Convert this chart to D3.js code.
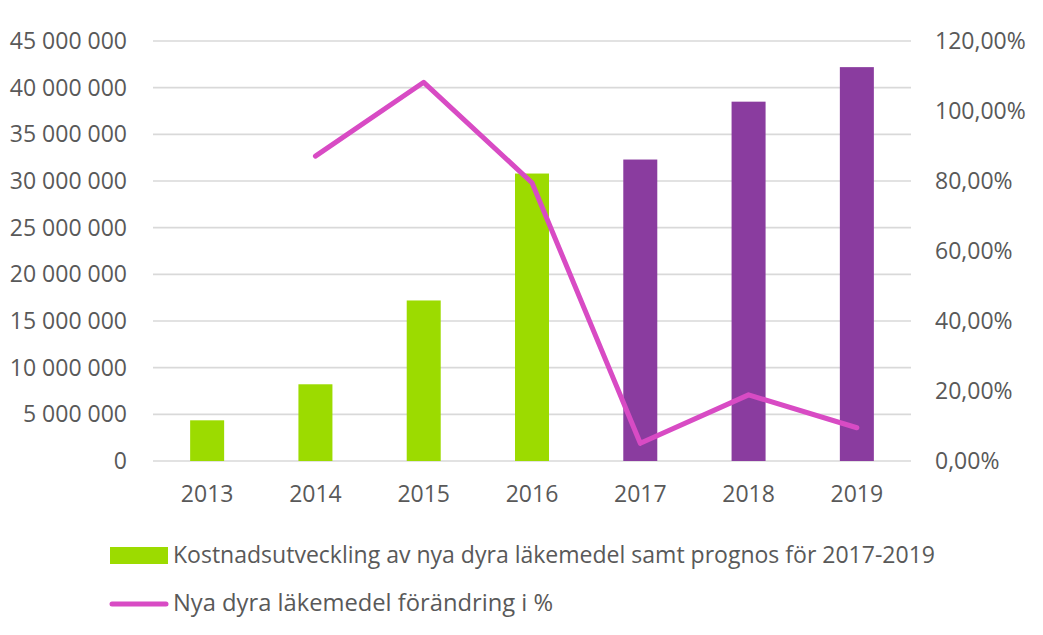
<!DOCTYPE html>
<html>
<head>
  <meta charset="utf-8">
  <title>chart</title>
  <style>
    body { margin: 0; background: #fff; }
    text { font-family: "Open Sans", sans-serif; fill: #595959; }
  </style>
</head>
<body>
<script src="https://cdn.jsdelivr.net/npm/d3@7"></script>
<script>
// data
const years = ["2013", "2014", "2015", "2016", "2017", "2018", "2019"];
const costs = [4360000, 8220000, 17200000, 30800000, 32300000, 38500000, 42200000];
const forecast = [false, false, false, false, true, true, true];
const change = [null, 0.871, 1.082, 0.795, 0.0505, 0.189, 0.095];
const leftTicks = [0, 5e6, 10e6, 15e6, 20e6, 25e6, 30e6, 35e6, 40e6, 45e6];
const rightTicks = [0, 0.2, 0.4, 0.6, 0.8, 1.0, 1.2];
const legendLabels = [
  "Kostnadsutveckling av nya dyra läkemedel samt prognos för 2017-2019",
  "Nya dyra läkemedel förändring i %"
];

const width = 1043, height = 635;
const green = "#9cdb00", purple = "#8a3c9f", pink = "#d84bc4";

const sv = d3.formatLocale({ decimal: ",", thousands: " ", grouping: [3], currency: ["", ""], percent: "%" });
const fmtNum = sv.format(",d");
const fmtPct = sv.format(".2%");

const svg = d3.select("body").append("svg")
  .attr("width", width)
  .attr("height", height);

const x = d3.scaleBand().domain(years).range([153, 911]).paddingInner(0.686).paddingOuter(0.343);
const y = d3.scaleLinear().domain([0, 45e6]).range([461, 41]);
const y2 = d3.scaleLinear().domain([0, 1.2]).range([461, 41]);

// gridlines
svg.append("g")
  .selectAll("line")
  .data(leftTicks)
  .enter().append("line")
  .attr("x1", 153).attr("x2", 911)
  .attr("y1", d => y(d)).attr("y2", d => y(d))
  .attr("stroke", "#d9d9d9")
  .attr("stroke-width", 1.6);

// left axis
const gl = svg.append("g")
  .attr("transform", "translate(153,0)")
  .call(d3.axisLeft(y).tickValues(leftTicks).tickFormat(fmtNum).tickSize(0).tickPadding(26));
gl.select(".domain").remove();
gl.selectAll("text").style("font-size", "23px").style("font-family", "Open Sans").attr("fill", "#595959");

// right axis
const gr = svg.append("g")
  .attr("transform", "translate(911,0)")
  .call(d3.axisRight(y2).tickValues(rightTicks).tickFormat(fmtPct).tickSize(0).tickPadding(24));
gr.select(".domain").remove();
gr.selectAll("text").style("font-size", "23px").style("font-family", "Open Sans").attr("fill", "#595959");

// bottom axis
const gb = svg.append("g")
  .attr("transform", "translate(0,461)")
  .call(d3.axisBottom(x).tickSize(0).tickPadding(25));
gb.select(".domain").remove();
gb.selectAll("text").style("font-size", "23px").style("font-family", "Open Sans").attr("fill", "#595959");

// bars
svg.append("g")
  .selectAll("rect")
  .data(years)
  .enter().append("rect")
  .attr("x", d => x(d))
  .attr("width", x.bandwidth())
  .attr("y", (d, i) => y(costs[i]))
  .attr("height", (d, i) => y(0) - y(costs[i]))
  .attr("fill", (d, i) => forecast[i] ? purple : green);

// line
const line = d3.line()
  .defined(d => d.v !== null)
  .x(d => x(d.year) + x.bandwidth() / 2)
  .y(d => y2(d.v));

svg.append("path")
  .datum(years.map((yr, i) => ({ year: yr, v: change[i] })))
  .attr("d", line)
  .attr("fill", "none")
  .attr("stroke", pink)
  .attr("stroke-width", 5)
  .attr("stroke-linecap", "round")
  .attr("stroke-linejoin", "round");

// legend
const lg = svg.append("g");
lg.append("rect")
  .attr("x", 110).attr("y", 547)
  .attr("width", 58).attr("height", 17)
  .attr("fill", green);
lg.append("line")
  .attr("x1", 112).attr("x2", 166)
  .attr("y1", 604).attr("y2", 604)
  .attr("stroke", pink).attr("stroke-width", 5)
  .attr("stroke-linecap", "round");
lg.selectAll("text")
  .data(legendLabels)
  .enter().append("text")
  .attr("x", 173)
  .attr("y", (d, i) => 563 + i * 48)
  .attr("textLength", (d, i) => i === 0 ? 762 : 380)
  .attr("lengthAdjust", "spacingAndGlyphs")
  .style("font-size", "23px")
  .text(d => d);
</script>
</body>
</html>
